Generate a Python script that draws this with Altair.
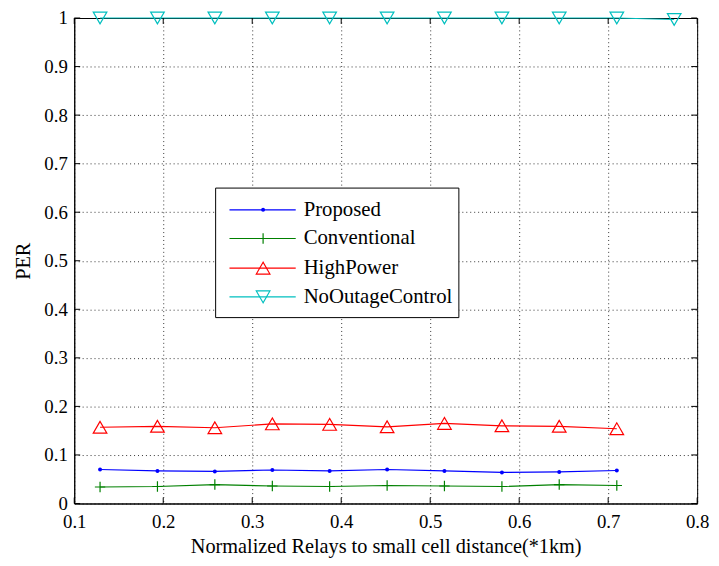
import altair as alt
import pandas as pd

# ---- data ----
x_vals = [0.129, 0.1935, 0.258, 0.3226, 0.387, 0.4516, 0.516, 0.5806, 0.645, 0.7097, 0.7742]
proposed = [0.070, 0.067, 0.066, 0.069, 0.067, 0.070, 0.067, 0.064, 0.065, 0.068]
conventional = [0.034, 0.035, 0.039, 0.036, 0.035, 0.037, 0.036, 0.035, 0.039, 0.037]
highpower = [0.157, 0.159, 0.156, 0.164, 0.163, 0.158, 0.165, 0.160, 0.159, 0.154]
nooutage = [1.0, 1.0, 1.0, 1.0, 1.0, 1.0, 1.0, 1.0, 1.0, 1.0, 0.997]

series_names = ["Proposed", "Conventional", "HighPower", "NoOutageControl"]
series_vals = [proposed, conventional, highpower, nooutage]
series_colors = ["#0000ff", "#008000", "#ff0000", "#00bfbf"]
x_ticks = [0.1, 0.2, 0.3, 0.4, 0.5, 0.6, 0.7, 0.8]
y_ticks = [0, 0.1, 0.2, 0.3, 0.4, 0.5, 0.6, 0.7, 0.8, 0.9, 1.0]

FONT = "Liberation Serif"
W, H = 630, 491

rows = []
for name, vals in zip(series_names, series_vals):
    for xv, yv in zip(x_vals, vals):
        rows.append({"x": xv, "y": yv, "series": name})
df = pd.DataFrame(rows)

xs = alt.Scale(domain=[0.1, 0.8], nice=False, zero=False)
ys = alt.Scale(domain=[0, 1], nice=False, zero=False)

x_axis = alt.Axis(values=x_ticks, format=".1~f", grid=True, gridColor="#000", gridDash=[1, 3],
                  gridOpacity=0.8, ticks=False, domainColor="#000", labelFont=FONT, labelFontSize=19,
                  labelColor="#000", labelPadding=9, titleFont=FONT, titleFontSize=20.5,
                  titleFontWeight="normal", titleColor="#000", titlePadding=6, labelFlush=False)
y_axis = alt.Axis(values=y_ticks, format=".1~f", grid=True, gridColor="#000", gridDash=[1, 3],
                  gridOpacity=0.8, ticks=False, domainColor="#000", labelFont=FONT, labelFontSize=19,
                  labelColor="#000", labelPadding=7, titleFont=FONT, titleFontSize=20.5,
                  titleFontWeight="normal", titleColor="#000", titlePadding=10, labelFlush=False)

base = alt.Chart(df)
lines = base.mark_line(strokeWidth=1.2).encode(
    x=alt.X("x:Q", scale=xs, axis=x_axis, title="Normalized Relays to small cell distance(*1km)"),
    y=alt.Y("y:Q", scale=ys, axis=y_axis, title="PER"),
    color=alt.Color("series:N", scale=alt.Scale(domain=series_names, range=series_colors), legend=None),
    detail="series:N",
)

shapes = ["circle", "M-1,0H1M0,-1V1", "triangle-up", "triangle-down"]
sizes = [16, 110, 190, 190]
filled = [True, False, False, False]

layers = [lines]
for name, col, shp, sz, fl in zip(series_names, series_colors, shapes, sizes, filled):
    pts = alt.Chart(df[df.series == name]).mark_point(
        shape=shp, size=sz, filled=fl, color=col, strokeWidth=1.2, opacity=1
    ).encode(x=alt.X("x:Q", scale=xs), y=alt.Y("y:Q", scale=ys))
    layers.append(pts)

# inward ticks (MATLAB style)
xt = pd.DataFrame({"t": x_ticks})
yt = pd.DataFrame({"t": y_ticks})
layers.append(alt.Chart(xt).mark_rule(color="#000").encode(x=alt.X("t:Q", scale=xs), y=alt.value(H), y2=alt.value(H - 6)))
layers.append(alt.Chart(xt).mark_rule(color="#000").encode(x=alt.X("t:Q", scale=xs), y=alt.value(0), y2=alt.value(6)))
layers.append(alt.Chart(yt).mark_rule(color="#000").encode(y=alt.Y("t:Q", scale=ys), x=alt.value(0), x2=alt.value(6)))
layers.append(alt.Chart(yt).mark_rule(color="#000").encode(y=alt.Y("t:Q", scale=ys), x=alt.value(W), x2=alt.value(W - 6)))

# legend box
one = pd.DataFrame({"a": [0]})
layers.append(alt.Chart(one).mark_rect(fill="white", stroke="#000", strokeWidth=1).encode(
    x=alt.value(143), x2=alt.value(389), y=alt.value(172), y2=alt.value(303)))
leg_y = [194, 223, 253, 282]
for name, col, shp, sz, fl, ly in zip(series_names, series_colors, shapes, sizes, filled, leg_y):
    layers.append(alt.Chart(one).mark_rule(color=col, strokeWidth=1.2).encode(
        x=alt.value(157), x2=alt.value(224), y=alt.value(ly)))
    layers.append(alt.Chart(one).mark_point(shape=shp, size=sz, filled=fl, color=col, strokeWidth=1.2, opacity=1).encode(
        x=alt.value(191), y=alt.value(ly)))
    layers.append(alt.Chart(one).mark_text(align="left", baseline="middle", font=FONT, fontSize=21, color="#000").encode(
        x=alt.value(232), y=alt.value(ly), text=alt.value(name)))

chart = alt.layer(*layers).properties(
    width=W, height=H,
    autosize=alt.AutoSizeParams(type="none"),
    padding={"left": 67, "top": 7, "right": 14, "bottom": 52},
).configure_view(stroke="#000", strokeWidth=1)

chart.save("out.html", embed_options={"renderer": "svg", "actions": False})
